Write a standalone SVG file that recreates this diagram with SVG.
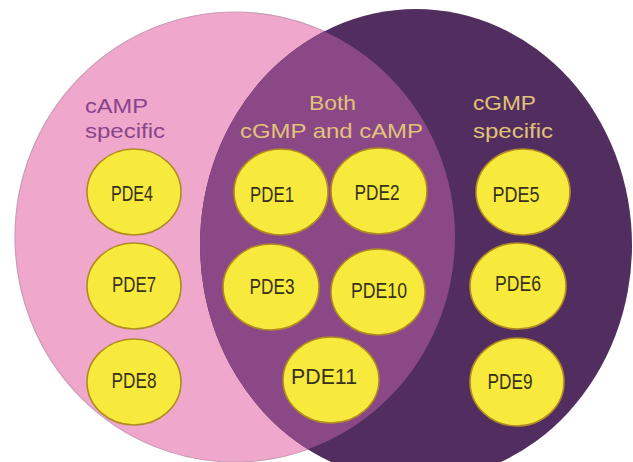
<svg xmlns="http://www.w3.org/2000/svg" width="633" height="462" viewBox="0 0 633 462">
  <style>
    .set-a { fill: #EFA8CB; stroke: #C99BB6; stroke-width: 1.2; }
    .set-b { fill: #512E5F; }
    .both { fill: #8B4886; }
    .pde ellipse { fill: #F7EA3C; stroke: #B08A22; stroke-width: 1.6; }
    .pde text { font-family: "Liberation Sans", Arial, sans-serif; font-size: 21.5px; fill: #38311A; text-anchor: middle; }
    .label { font-family: "Liberation Sans", Arial, sans-serif; font-size: 21px; }
    .label-a { fill: #8A448C; }
    .label-b { fill: #E2C27A; }
  </style>
  <defs>
    <clipPath id="clip-a">
      <ellipse cx="235" cy="237" rx="220" ry="225"/>
    </clipPath>
  </defs>

  <!-- set regions -->
  <g id="sets">
    <ellipse id="set-camp" class="set-a" cx="235" cy="237" rx="220" ry="225"/>
    <ellipse id="set-cgmp" class="set-b" cx="416" cy="245" rx="216" ry="236"/>
    <ellipse id="set-overlap" class="both" cx="416" cy="245" rx="216" ry="236" clip-path="url(#clip-a)"/>
  </g>

  <!-- set labels -->
  <g id="labels">
    <text class="label label-a" x="85" y="113" textLength="63" lengthAdjust="spacingAndGlyphs">cAMP</text>
    <text class="label label-a" x="85" y="138" textLength="80" lengthAdjust="spacingAndGlyphs">specific</text>
    <text class="label label-b" x="309" y="110" textLength="47" lengthAdjust="spacingAndGlyphs">Both</text>
    <text class="label label-b" x="240" y="138" textLength="183" lengthAdjust="spacingAndGlyphs">cGMP and cAMP</text>
    <text class="label label-b" x="473" y="110" textLength="63" lengthAdjust="spacingAndGlyphs">cGMP</text>
    <text class="label label-b" x="473" y="138" textLength="80" lengthAdjust="spacingAndGlyphs">specific</text>
  </g>

  <!-- cAMP specific -->
  <g id="pde4" class="pde">
    <ellipse cx="134" cy="192" rx="47" ry="43"/>
    <text x="132" y="201" textLength="42" lengthAdjust="spacingAndGlyphs">PDE4</text>
  </g>
  <g id="pde7" class="pde">
    <ellipse cx="134" cy="286" rx="47" ry="43"/>
    <text x="134" y="292" textLength="44" lengthAdjust="spacingAndGlyphs">PDE7</text>
  </g>
  <g id="pde8" class="pde">
    <ellipse cx="134" cy="382" rx="47" ry="43"/>
    <text x="134" y="388" textLength="45" lengthAdjust="spacingAndGlyphs">PDE8</text>
  </g>

  <!-- both -->
  <g id="pde1" class="pde">
    <ellipse cx="281" cy="192" rx="47" ry="43"/>
    <text x="272" y="202" textLength="44" lengthAdjust="spacingAndGlyphs">PDE1</text>
  </g>
  <g id="pde2" class="pde">
    <ellipse cx="379" cy="191" rx="48" ry="43"/>
    <text x="377" y="200" textLength="45" lengthAdjust="spacingAndGlyphs">PDE2</text>
  </g>
  <g id="pde3" class="pde">
    <ellipse cx="271" cy="287" rx="48" ry="43"/>
    <text x="272" y="294" textLength="45" lengthAdjust="spacingAndGlyphs">PDE3</text>
  </g>
  <g id="pde10" class="pde">
    <ellipse cx="378" cy="292" rx="47" ry="43"/>
    <text x="379" y="298" textLength="56" lengthAdjust="spacingAndGlyphs">PDE10</text>
  </g>
  <g id="pde11" class="pde">
    <ellipse cx="331" cy="380" rx="48" ry="43"/>
    <text x="324" y="384" textLength="66" lengthAdjust="spacingAndGlyphs">PDE11</text>
  </g>

  <!-- cGMP specific -->
  <g id="pde5" class="pde">
    <ellipse cx="523" cy="192" rx="47" ry="43"/>
    <text x="516" y="202" textLength="47" lengthAdjust="spacingAndGlyphs">PDE5</text>
  </g>
  <g id="pde6" class="pde">
    <ellipse cx="518" cy="286" rx="48" ry="43"/>
    <text x="518" y="291" textLength="46" lengthAdjust="spacingAndGlyphs">PDE6</text>
  </g>
  <g id="pde9" class="pde">
    <ellipse cx="517" cy="382" rx="47" ry="44"/>
    <text x="510" y="389" textLength="45" lengthAdjust="spacingAndGlyphs">PDE9</text>
  </g>

  <g id="connectors"/>
</svg>
